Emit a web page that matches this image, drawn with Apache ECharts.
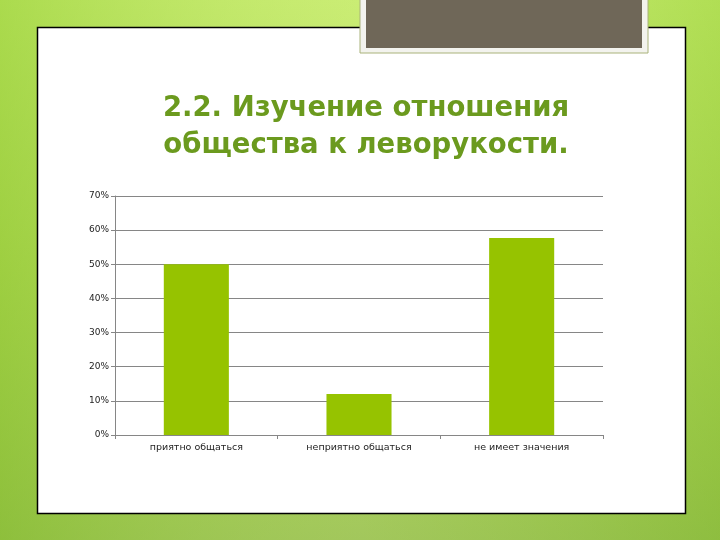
<!DOCTYPE html>
<html>
<head>
<meta charset="utf-8">
<script src="https://cdn.jsdelivr.net/npm/echarts@6/dist/echarts.min.js"></script>
<style>html,body{margin:0;padding:0;}#c{width:720px;height:540px;}</style>
</head>
<body>
<div id="c"></div>
<script>
const categories = ['приятно общаться', 'неприятно общаться', 'не имеет значения'];
const values = [0.50, 0.12, 0.577];
const titleLines = ['2.2. Изучение отношения', 'общества к леворукости.'];

const chart = echarts.init(document.getElementById('c'), null, {renderer: 'canvas'});
chart.setOption({
  animation: false,
  graphic: [
    {type: 'rect', z: -10, shape: {x: 0, y: 0, width: 720, height: 540},
     style: {fill: new echarts.graphic.LinearGradient(0, 0, 0, 1, [
       {offset: 0, color: '#c4ea6c'}, {offset: 0.5, color: '#acd455'}, {offset: 1, color: '#8fb84c'}])}},
    {type: 'rect', z: -9, shape: {x: 0, y: 0, width: 720, height: 540},
     style: {fill: new echarts.graphic.LinearGradient(0, 0, 1, 0, [
       {offset: 0, color: 'rgba(140,200,40,0.45)'}, {offset: 0.5, color: 'rgba(220,245,140,0.25)'}, {offset: 1, color: 'rgba(140,200,40,0.35)'}])}},
    {type: 'rect', z: -8, shape: {x: 37.5, y: 27.5, width: 648, height: 486},
     style: {fill: '#ffffff', stroke: '#000000', lineWidth: 1.5}},
    {type: 'rect', z: -7, shape: {x: 360, y: -5, width: 288, height: 58},
     style: {fill: '#f3f3ee', stroke: '#a9b27a', lineWidth: 1}},
    {type: 'rect', z: -6, shape: {x: 366, y: 0, width: 276, height: 48},
     style: {fill: '#6f6758'}}
  ],
  title: {
    text: titleLines.join('\n'),
    left: 361, top: 85, textAlign: 'center',
    textStyle: {fontFamily: 'DejaVu Sans', fontWeight: 'bold', fontSize: 27.5, lineHeight: 37, color: '#6b9a1e'}
  },
  grid: {left: 115, right: 117, top: 196, bottom: 105},
  xAxis: {
    type: 'category', data: categories,
    axisLine: {lineStyle: {color: '#868686'}},
    axisTick: {show: true, length: 4, lineStyle: {color: '#868686'}},
    axisLabel: {fontFamily: 'DejaVu Sans', fontSize: 9.5, color: '#222', margin: 8}
  },
  yAxis: {
    type: 'value', min: 0, max: 0.7, interval: 0.1,
    axisLine: {show: true, lineStyle: {color: '#868686'}},
    axisTick: {show: true, length: 4, lineStyle: {color: '#868686'}},
    splitLine: {lineStyle: {color: '#868686'}},
    axisLabel: {fontFamily: 'DejaVu Sans', fontSize: 9, color: '#222', margin: 6,
      formatter: v => Math.round(v * 100) + '%'}
  },
  series: [{
    type: 'bar', data: values, barWidth: '40%',
    itemStyle: {color: '#96c300'}
  }]
});
</script>
</body>
</html>
